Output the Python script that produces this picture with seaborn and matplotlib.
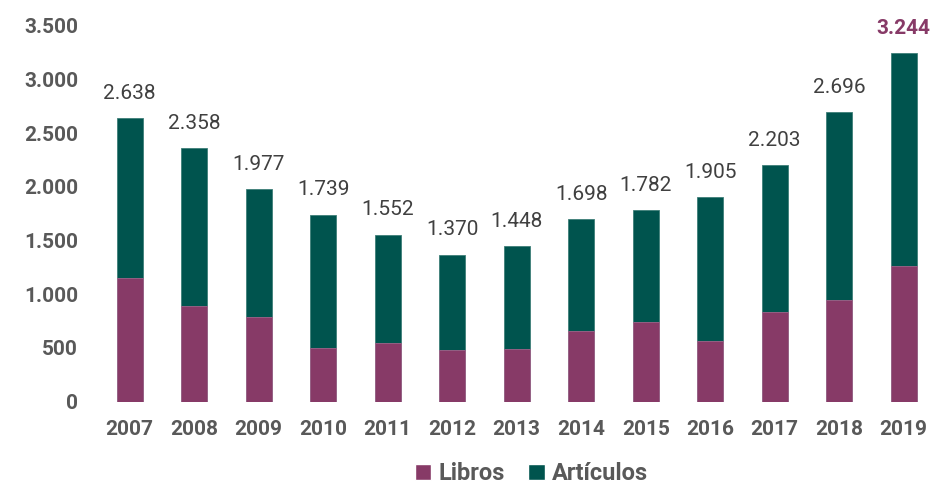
import matplotlib
matplotlib.use("Agg")
import matplotlib.pyplot as plt
from matplotlib.patches import Patch
import numpy as np
import pandas as pd
import seaborn as sns

# Data
years = ["2007", "2008", "2009", "2010", "2011", "2012", "2013",
         "2014", "2015", "2016", "2017", "2018", "2019"]
totales = [2638, 2358, 1977, 1739, 1552, 1370, 1448,
           1698, 1782, 1905, 2203, 2696, 3244]
libros = [1149, 894, 791, 497, 543, 478, 488,
          655, 739, 568, 832, 944, 1266]
y_ticks = [0, 500, 1000, 1500, 2000, 2500, 3000, 3500]

LIBROS_COLOR = "#873A67"
ARTICULOS_COLOR = "#00544E"
TEXT_GRAY = "#595959"

sns.set_style("white")
plt.rcParams["font.family"] = ["Roboto", "DejaVu Sans"]


def fmt_miles(v):
    # Spanish thousands separator
    return f"{v:,.0f}".replace(",", ".")


df = pd.DataFrame({"year": years, "total": totales, "libros": libros})
df["articulos"] = df["total"] - df["libros"]

fig = plt.figure(figsize=(9.49, 4.91), dpi=100)
ax = fig.add_axes([0.1027, 0.1819, 0.8836, 0.7658])

# Stacked bars: full total in teal, libros on top of it from the base
sns.barplot(data=df, x="year", y="total", color=ARTICULOS_COLOR,
            width=0.4, saturation=1, ax=ax, edgecolor="#3E7E78", linewidth=0.6)
sns.barplot(data=df, x="year", y="libros", color=LIBROS_COLOR,
            width=0.4, saturation=1, ax=ax, edgecolor="#A0648A", linewidth=0.6)

# Total labels above each bar
for i, (yr, tot) in enumerate(zip(years, totales)):
    last = i == len(years) - 1
    ax.annotate(fmt_miles(tot), xy=(i, tot), xytext=(0, 18),
                textcoords="offset points", ha="center", va="center",
                fontsize=15, color=LIBROS_COLOR if last else "#404040",
                fontweight="bold" if last else "normal",
                annotation_clip=False)

ax.set_ylim(0, 3500)
ax.set_xlim(-0.5, len(years) - 0.5)
ax.set_yticks(y_ticks)
ax.set_yticklabels([fmt_miles(v) for v in y_ticks])
ax.tick_params(axis="both", length=0, labelsize=15, labelcolor=TEXT_GRAY)
ax.tick_params(axis="y", pad=14)
ax.tick_params(axis="x", pad=13)
for lbl in ax.get_xticklabels() + ax.get_yticklabels():
    lbl.set_fontweight("bold")
ax.set_xlabel("")
ax.set_ylabel("")
sns.despine(ax=ax, left=True, bottom=True)
ax.grid(False)

handles = [Patch(facecolor=LIBROS_COLOR, label="Libros"),
           Patch(facecolor=ARTICULOS_COLOR, label="Artículos")]
leg = fig.legend(handles=handles, loc="center", bbox_to_anchor=(0.56, 0.035),
                 ncol=2, frameon=False, handlelength=0.7, handleheight=0.7,
                 handletextpad=0.3, columnspacing=1.0,
                 prop={"size": 17, "weight": "bold"})
for t in leg.get_texts():
    t.set_color(TEXT_GRAY)

fig.savefig("out.png", dpi=100)
